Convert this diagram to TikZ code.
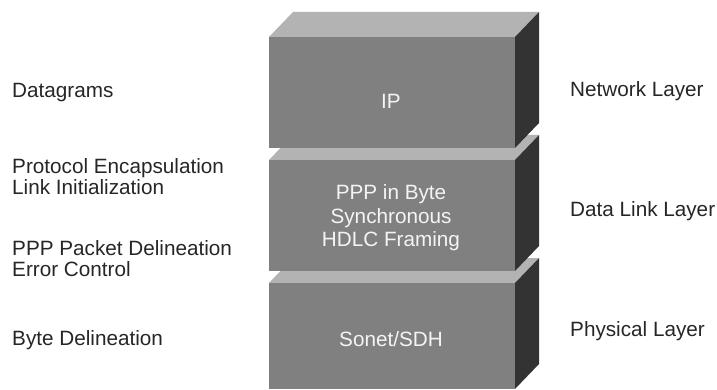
\documentclass[tikz,border=0pt]{standalone}
\usepackage{fontspec}
\setmainfont{Liberation Sans}
\definecolor{topface}{HTML}{B3B3B3}
\definecolor{frontface}{HTML}{808080}
\definecolor{sideface}{HTML}{333333}
\definecolor{labelcol}{HTML}{262626}
\definecolor{blocktext}{HTML}{F4F4F4}
\tikzset{
  lbl/.style={inner sep=0pt, text=labelcol, font=\fontsize{20.7}{23}\selectfont},
  btxt/.style={inner sep=0pt, text=blocktext, font=\fontsize{20.7}{23}\selectfont, anchor=base},
}
% block: #1 = front top y, #2 = front bottom y
\newcommand{\layerblock}[2]{%
  \fill[topface] (269,#1) -- (293,#1-25) -- (539,#1-25) -- (515,#1) -- cycle;
  \fill[sideface] (515,#1) -- (539,#1-25) -- (539,#2-25) -- (515,#2) -- cycle;
  \fill[frontface] (269,#1) rectangle (515,#2);
}
\begin{document}
\begin{tikzpicture}[x=1pt,y=-1pt]
\useasboundingbox (0,0) rectangle (717,390);
% blocks, bottom first
\layerblock{283}{389}
\layerblock{160}{271}
\layerblock{37}{148}
% block texts
\node[btxt] (ip) at (391,109) {IP};
\node[btxt] (ppp1) at (391,200) {PPP in Byte};
\node[btxt] (ppp2) at (391,223) {Synchronous};
\node[btxt] (ppp3) at (391,246) {HDLC Framing};
\node[btxt] (sonet) at (391,346) {Sonet/SDH};
% left labels
\node[lbl, anchor=base west] (l1) at (12,97.7) {Datagrams};
\node[lbl, anchor=base west] (l2) at (12,173.3) {Protocol Encapsulation};
\node[lbl, anchor=base west] (l3) at (12,195) {Link Initialization};
\node[lbl, anchor=base west] (l4) at (12,255) {PPP Packet Delineation};
\node[lbl, anchor=base west] (l5) at (12,276.7) {Error Control};
\node[lbl, anchor=base west] (l6) at (12,345) {Byte Delineation};
% right labels
\node[lbl, anchor=base west] (r1) at (570,96.7) {Network Layer};
\node[lbl, anchor=base west] (r2) at (570,216) {Data Link Layer};
\node[lbl, anchor=base west] (r3) at (570,336) {Physical Layer};
\end{tikzpicture}
\end{document}
